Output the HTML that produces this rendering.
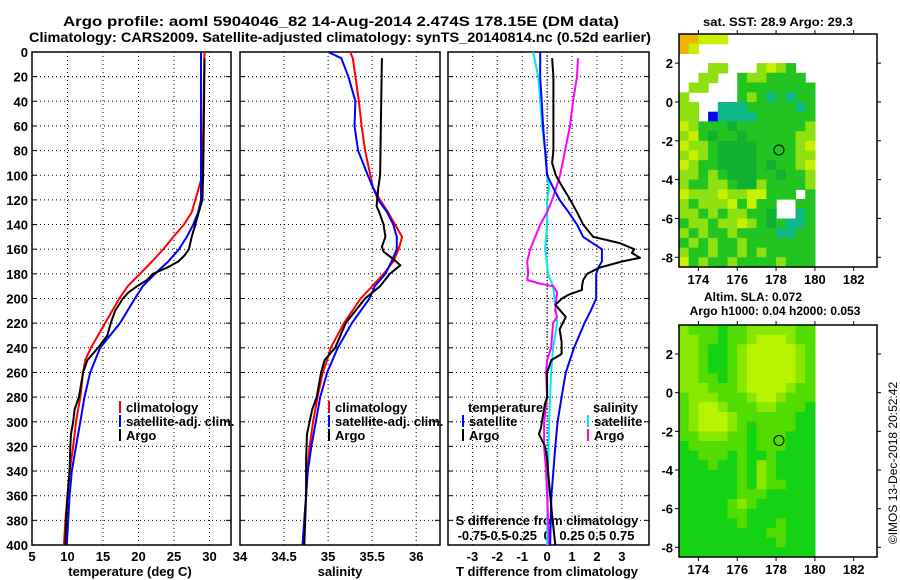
<!DOCTYPE html>
<html><head><meta charset="utf-8">
<style>
html,body{margin:0;padding:0;background:#fff;}
svg{display:block;font-family:"Liberation Sans",Arial,sans-serif;font-weight:bold;}
</style></head>
<body>
<svg id="fig" xmlns="http://www.w3.org/2000/svg" width="900" height="580" viewBox="0 0 900 580">
<rect x="0" y="0" width="900" height="580" fill="#fff"/>
<text x="341" y="26" text-anchor="middle" font-size="14" textLength="556" lengthAdjust="spacingAndGlyphs">Argo profile: aoml 5904046_82 14-Aug-2014 2.474S 178.15E (DM data)</text>
<text x="340" y="42" text-anchor="middle" font-size="14" textLength="622" lengthAdjust="spacingAndGlyphs">Climatology: CARS2009. Satellite-adjusted climatology: synTS_20140814.nc (0.52d earlier)</text>
<text x="778" y="26" text-anchor="middle" font-size="12" textLength="150" lengthAdjust="spacingAndGlyphs">sat. SST: 28.9 Argo: 29.3</text>
<text x="753" y="301" text-anchor="middle" font-size="12">Altim. SLA: 0.072</text>
<text x="775" y="315" text-anchor="middle" font-size="12">Argo h1000: 0.04 h2000: 0.053</text>
<text x="0" y="0" font-size="12" font-weight="normal" text-anchor="middle" transform="translate(897,463) rotate(-90)">©IMOS 13-Dec-2018 20:52:42</text>
</svg>
<script>
// ---------- profile data ----------
const tClimDepth = [0,100,120,130,140,150,160,170,180,190,200,220,240,250,260,280,300,320,340,360,380,400];
const tClimVal   = [29.3,29.0,28.0,27.5,26.4,24.9,23.5,21.9,20.2,18.5,17.3,15.3,13.3,12.5,12.2,11.8,11.2,10.8,10.3,10.0,9.7,9.5];
const tSatDepth = [0,120,130,140,150,160,170,180,190,200,220,240,260,280,300,320,340,360,380,400];
const tSatVal   = [28.8,28.8,28.4,27.7,26.8,25.7,24.2,22.3,20.6,19.5,17.4,14.6,13.2,12.4,11.8,11.2,10.6,10.3,10.1,9.9];
const tArgoDepth = [5,60,100,120,130,140,150,160,165,170,175,180,185,190,195,200,210,220,230,240,250,260,280,290,300,310,320,340,360,380,400];
const tArgoVal   = [29.3,29.2,29.1,29.0,28.5,28.0,27.5,27.1,26.5,25.6,24.0,22.0,21.2,19.8,18.6,17.8,16.7,16.1,15.6,14.3,12.8,12.2,11.6,11.0,10.8,10.5,10.4,10.3,10.0,9.8,9.7];

const sClimDepth = [0,5,20,40,60,80,100,110,120,130,140,150,160,170,180,190,200,220,240,250,260,280,300,320,340,360,380,400];
const sClimVal   = [35.25,35.28,35.31,35.35,35.38,35.42,35.48,35.51,35.59,35.68,35.76,35.84,35.80,35.74,35.63,35.50,35.37,35.18,35.03,34.99,34.94,34.88,34.83,34.79,34.76,34.75,34.73,34.71];
const sSatDepth = [0,5,20,30,40,60,80,100,120,130,140,150,160,170,180,190,200,220,240,260,280,300,320,340,360,380,400];
const sSatVal   = [35.0,35.15,35.23,35.27,35.31,35.30,35.34,35.45,35.57,35.67,35.74,35.78,35.78,35.72,35.65,35.53,35.47,35.27,35.11,34.99,34.91,34.86,34.81,34.77,34.75,34.73,34.71];
const sArgoDepth = [5,100,110,125,130,140,150,158,162,168,173,180,190,200,220,240,250,260,280,290,300,310,330,360,400];
const sArgoVal   = [35.61,35.59,35.57,35.55,35.58,35.63,35.65,35.61,35.63,35.74,35.82,35.70,35.59,35.42,35.20,35.08,34.96,34.92,34.87,34.82,34.79,34.76,34.75,34.75,34.73];

const dTSatDepth = [0,20,40,60,80,100,110,120,130,140,150,160,170,175,180,200,210,220,240,260,280,300,320,340,360,400];
const dTSatVal   = [-0.28,-0.28,-0.22,-0.16,-0.08,0.0,0.24,0.5,0.86,1.2,1.45,2.2,2.2,2.05,1.97,1.97,1.75,1.5,1.08,0.75,0.58,0.42,0.33,0.25,0.17,0.12];
const dTArgoDepth = [5,20,80,90,100,110,120,130,140,150,155,160,163,167,170,175,180,185,190,193,197,200,205,215,225,235,245,250,260,280,285,295,305,310,320,330,350,370,400];
const dTArgoVal   = [0.2,0.25,0.25,0.2,0.35,0.63,0.93,1.2,1.45,1.85,2.9,3.5,3.4,3.73,3.0,2.1,1.6,1.45,1.4,1.4,0.85,0.6,0.33,0.75,0.5,0.58,0.58,0.17,0.0,0.0,-0.08,-0.17,-0.25,-0.33,-0.08,0.0,0.08,0.17,0.33];
const dSArgoDepth = [5,20,40,60,80,100,120,130,140,150,160,170,180,185,188,190,195,210,215,220,240,250,260,280,300,320,340,360,400];
const dSArgoVal   = [0.31,0.3,0.26,0.23,0.18,0.13,0.05,0.0,-0.07,-0.12,-0.17,-0.2,-0.19,-0.2,-0.07,0.06,0.1,0.08,0.1,0.06,0.04,0.0,-0.01,0.0,-0.03,-0.03,-0.01,0.0,0.02];
const dSSatDepth = [0,20,40,60,80,100,110,120,140,160,180,190,200,220,240,260,300,340,400];
const dSSatVal   = [-0.14,-0.09,-0.07,-0.05,-0.02,0.0,0.02,0.0,0.0,-0.02,0.01,0.06,0.075,0.1,0.06,0.04,0.02,0.01,0.0];

const depthTicks = [0,20,40,60,80,100,120,140,160,180,200,220,240,260,280,300,320,340,360,380,400];
const tempTicks = [5,10,15,20,25,30];
const salTicks = [34,34.5,35,35.5,36];
const salTickLabels = ["34","34.5","35","35.5","36"];
const dTTicks = [-3,-2,-1,0,1,2,3];
const dSTicks = [-0.75,-0.5,-0.25,0,0.25,0.5,0.75];
const dSTickLabels = ["-0.75","-0.5","-0.25","0","0.25","0.5","0.75"];

// ---------- map data (0.5 deg cells, lon 173..180, lat 3.5..-8.5) ----------
const sstRows = [
"OOYYYWWWWWWWWW","OYWWWWWWWWWWWW","WWWWWWWWWWWWWW","WWWLLWWWLYLGWW",
"WWLLWWGLLGGGGW","WLLWWWGGGGGGGG","LWWWWWGLGCGCGG","LLWWCCCGGGGGCG",
"LLWBCCCCGGGGGG","YLGGGDGGGGGGGL","LYGDGGDGGGGGLL","YLLGDDDDGGGGLY",
"LYLGDDDDGGGGLL","YLGGDDDDGDGGLY","LLGLGDDDGGDGGL","LGGLLGDDLGGGGL",
"YLLLYLLYYGGGWG","LGLLLYGYGGWWGG","LLGLGLLGGDWWCG","GLLGLLYLGDGCCG",
"LGLGGLGGGGCCGG","GLGLGGLGGGGGGG","LGGLGGLGLGGGGG","YGLGGLGGGGLGGG"];
const sstColors = {O:"#f0b400",Y:"#c8f000",L:"#8ee010",G:"#22c422",D:"#10b030",C:"#10b888",B:"#0000ff",W:"#ffffff"};
const slaRows = [
"LMMMGMMLLLLLMM","LLMMGMMLYYYLMM","LLMGGMLYYYYYLM","LLMGGMLYYYYYLM",
"LLMGGMLYYYYYLM","LLMMGMLYYYYYLM","LLLMMMLYYYYLMM","MLLLMMMLYYLMMM",
"MLYYLMMMLLMMMG","MLYYYLMMMMMMGG","MLYYYLMGMMMMGG","MMLLLMMGMMMGGG",
"GMMMMMMGMMMGGG","GGMMMGMGGMGGGG","GGGMGGMGLMGGGG","GGGGGGMGLMGGGG",
"GGGGGGMGLMMGGG","GGGGGGMMMGGGGG","GGGGGMLMGGGGGG","GGGGGMMGGGGGGG",
"GGGGGGMGGGMGGG","GGGGGGGGGMMGGG","GGGGGGGGGGMGGG","GGGGGGGGGGGGGG"];
const slaColors = {G:"#14d214",M:"#52dc00",L:"#88e800",Y:"#b8f400"};
const mapLonTicks = [174,176,178,180,182];
const mapLatTicks = [2,0,-2,-4,-6,-8];
const floatLon = 178.15, floatLat = -2.474;

// ---------- drawing ----------
const NS = "http://www.w3.org/2000/svg";
const svg = document.getElementById("fig");
function el(tag, attrs, parent){
  const e = document.createElementNS(NS, tag);
  for (const k in attrs) e.setAttribute(k, attrs[k]);
  (parent||svg).appendChild(e);
  return e;
}
const Y0 = 52, Y1 = 545;
const yD = d => Y0 + d*(Y1-Y0)/400;
const panels = [
  {name:"temperature", x0:32, x1:231, vmin:5, vmax:33.03},
  {name:"salinity", x0:240, x1:440, vmin:34, vmax:36.27},
  {name:"difference", x0:448, x1:649, vmin:-3.98, vmax:4.09}
];
function xs(p){ return v => p.x0 + (v-p.vmin)*(p.x1-p.x0)/(p.vmax-p.vmin); }

panels.forEach((p,pi)=>{
  const g = el("g",{});
  
  
  const X = xs(p);
  // horizontal grid
  depthTicks.forEach(d=>{
    if(d>0 && d<400){
      const l = el("line",{x1:p.x0,x2:p.x1,y1:yD(d),y2:yD(d),stroke:"#000","stroke-width":1,"stroke-dasharray":"1,3"},g);
      
      
    }
    const t1 = el("line",{x1:p.x0,x2:p.x0+5,y1:yD(d),y2:yD(d),stroke:"#000"},g);
    
    
    const t2 = el("line",{x1:p.x1-5,x2:p.x1,y1:yD(d),y2:yD(d),stroke:"#000"},g);
    
    
  });
  const vt = pi===0?tempTicks:(pi===1?salTicks:dTTicks);
  vt.forEach((v,i)=>{
    const x = X(v);
    if(x>p.x0+2 && x<p.x1-2){
      const l = el("line",{x1:x,x2:x,y1:Y0,y2:Y1,stroke:"#000","stroke-width":1,"stroke-dasharray":"1,3"},g);
      
      
    }
    const lab = pi===1?salTickLabels[i]:String(v);
    const t = el("text",{x:x,y:561,"text-anchor":"middle","font-size":13},g);
    t.textContent = lab;
    
    
  });
  const fr = el("rect",{x:p.x0,y:Y0,width:p.x1-p.x0,height:Y1-Y0,fill:"none",stroke:"#000","stroke-width":1.5},g);
  
  
});
// y tick labels
depthTicks.forEach(d=>{
  const t = el("text",{x:28,y:yD(d)+5,"text-anchor":"end","font-size":13});
  t.textContent = String(d);
  
  
});
// x titles
[["temperature (deg C)",130,"temperature-axis-title"],["salinity",340,"salinity-axis-title"],["T difference from climatology",547,"t-difference-axis-title"]].forEach(a=>{
  const t = el("text",{x:a[1],y:576,"text-anchor":"middle","font-size":13});
  t.textContent = a[0];
  
  
});
// S diff inner axis
const pD = panels[2], XD = xs(pD);
{
  const t = el("text",{x:547,y:525,"text-anchor":"middle","font-size":13});
  t.textContent = "S difference from climatology";
  
  
}
dSTicks.forEach((v,i)=>{
  const t = el("text",{x:XD(v*4),y:540,"text-anchor":"middle","font-size":13});
  t.textContent = dSTickLabels[i];
  
  
});
// zero line in difference panel
{
  const l = el("line",{x1:XD(0),x2:XD(0),y1:Y0,y2:Y1,stroke:"#000","stroke-dasharray":"1,2"});
  
  
}
function series(p, depths, vals, color, name, scale){
  const X = xs(p);
  const pts = depths.map((d,i)=> X(vals[i]*(scale||1)).toFixed(1)+","+yD(d).toFixed(1)).join(" ");
  const pl = el("polyline",{points:pts,fill:"none",stroke:color,"stroke-width":2,"stroke-linejoin":"round"});
  
  
}
series(panels[0], tClimDepth, tClimVal, "#ff0000", "temperature-climatology-line");
series(panels[0], tSatDepth, tSatVal, "#0000ff", "temperature-satellite-line");
series(panels[0], tArgoDepth, tArgoVal, "#000000", "temperature-argo-line");
series(panels[1], sClimDepth, sClimVal, "#ff0000", "salinity-climatology-line");
series(panels[1], sSatDepth, sSatVal, "#0000ff", "salinity-satellite-line");
series(panels[1], sArgoDepth, sArgoVal, "#000000", "salinity-argo-line");
series(pD, dSSatDepth, dSSatVal, "#00e8f0", "s-difference-satellite-line", 4);
series(pD, dSArgoDepth, dSArgoVal, "#ff00ff", "s-difference-argo-line", 4);
series(pD, dTSatDepth, dTSatVal, "#0000ff", "t-difference-satellite-line");
series(pD, dTArgoDepth, dTArgoVal, "#000000", "t-difference-argo-line");

// legends
function legendEntry(x, y, color, label, name){
  const g = el("g",{});
  
  
  el("line",{x1:x,x2:x,y1:y-11,y2:y+1,stroke:color,"stroke-width":2},g);
  const t = el("text",{x:x+6,y:y,"font-size":13},g);
  t.textContent = label;
}
[[120,"temperature"],[329,"salinity"]].forEach(a=>{
  legendEntry(a[0],412,"#ff0000","climatology",a[1]+"-legend-climatology");
  legendEntry(a[0],426,"#0000ff","satellite-adj. clim.",a[1]+"-legend-satellite");
  legendEntry(a[0],440,"#000000","Argo",a[1]+"-legend-argo");
});
{
  const t1 = el("text",{x:468,y:412,"font-size":13}); t1.textContent="temperature";
  
  
  const t2 = el("text",{x:593,y:412,"font-size":13}); t2.textContent="salinity";
  
  
}
legendEntry(463,426,"#0000ff","satellite","difference-legend-t-satellite");
legendEntry(463,440,"#000000","Argo","difference-legend-t-argo");
legendEntry(588,426,"#00e8f0","satellite","difference-legend-s-satellite");
legendEntry(588,440,"#ff00ff","Argo","difference-legend-s-argo");

// maps
function drawMap(name, top, bottom, rows, colors){
  const mx0 = 679, mx1 = 877;
  const lonMin = 173.0, lonMax = 183.2, latMax = 3.5, latMin = -8.5;
  const LX = lon => mx0 + (lon-lonMin)*(mx1-mx0)/(lonMax-lonMin);
  const LY = lat => top + (latMax-lat)*(bottom-top)/(latMax-latMin);
  const g = el("g",{});
  
  
  rows.forEach((row,r)=>{
    for(let c=0;c<row.length;c++){
      const col = colors[row[c]];
      if(col==="#ffffff") continue;
      const lon = lonMin + c*0.5, lat = latMax - r*0.5;
      const x = LX(lon), y = LY(lat);
      const cell = el("rect",{x:x.toFixed(1),y:y.toFixed(1),width:(LX(lon+0.5)-x+0.6).toFixed(1),height:(LY(lat-0.5)-y+0.6).toFixed(1),fill:col},g);
      
      
    }
  });
  const fr = el("rect",{x:mx0,y:top,width:mx1-mx0,height:bottom-top,fill:"none",stroke:"#000","stroke-width":1.5},g);
  
  
  mapLonTicks.forEach(lon=>{
    const x = LX(lon);
    el("line",{x1:x,x2:x,y1:top,y2:top-4,stroke:"#000"},g);
    el("line",{x1:x,x2:x,y1:bottom,y2:bottom+4,stroke:"#000"},g);
    const t = el("text",{x:x,y:bottom+17,"text-anchor":"middle","font-size":13},g);
    t.textContent = String(lon);
    
    
  });
  mapLatTicks.forEach(lat=>{
    const y = LY(lat);
    el("line",{x1:mx0,x2:mx0-4,y1:y,y2:y,stroke:"#000"},g);
    el("line",{x1:mx1,x2:mx1+4,y1:y,y2:y,stroke:"#000"},g);
    const t = el("text",{x:673,y:y+5,"text-anchor":"end","font-size":13},g);
    t.textContent = String(lat);
    
    
  });
  const m = el("circle",{cx:LX(floatLon),cy:LY(floatLat),r:5,fill:"none",stroke:"#000","stroke-width":1},g);
  
  
}
drawMap("sst-map", 34, 267, sstRows, sstColors);
drawMap("sla-map", 325, 557, slaRows, slaColors);
</script>
</body></html>
